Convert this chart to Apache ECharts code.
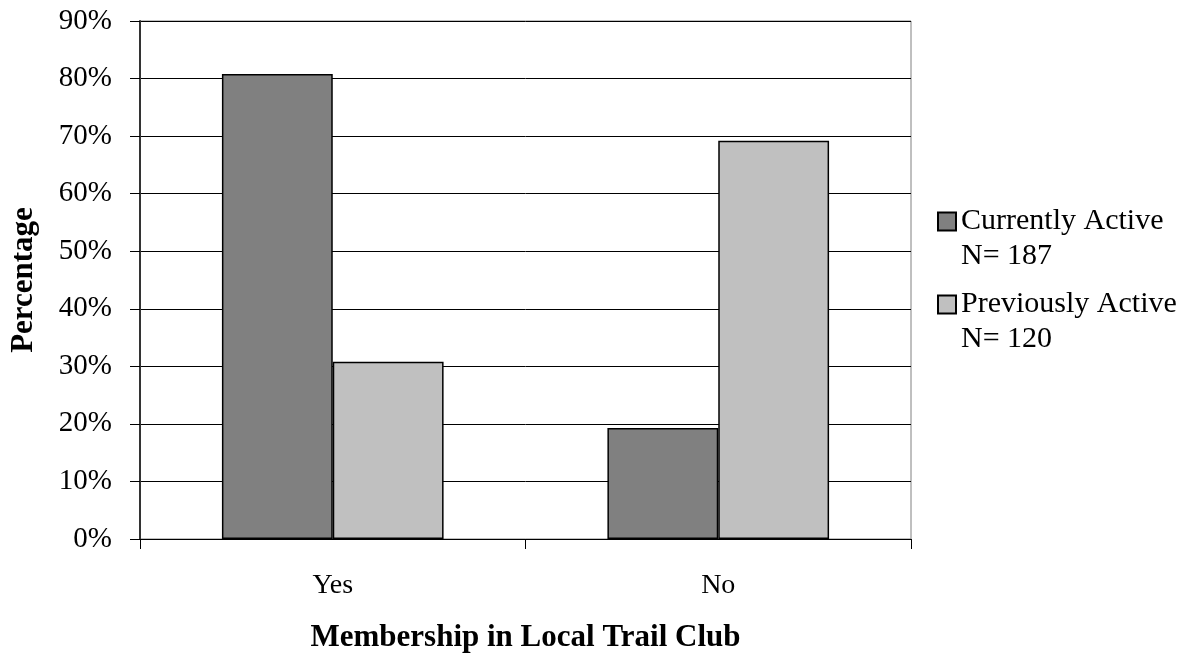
<!DOCTYPE html>
<html>
<head>
<meta charset="utf-8">
<script src="https://cdn.jsdelivr.net/npm/echarts@6/dist/echarts.min.js"></script>
<style>
  html, body { margin: 0; padding: 0; background: #fff; }
  #chart { width: 1198px; height: 662px; }
</style>
</head>
<body>
<div id="chart"></div>
<script>
  // data
  var categories = ['Yes', 'No'];
  var seriesNames = ['Currently Active', 'Previously Active'];
  var sampleSizes = ['N= 187', 'N= 120'];
  var currentlyActive = [80.8, 19.3];
  var previouslyActive = [30.8, 69.2];
  var yTicks = [0, 10, 20, 30, 40, 50, 60, 70, 80, 90];

  var font = '"Liberation Serif", "Times New Roman", serif';

  var chart = echarts.init(document.getElementById('chart'));

  var option = {
    backgroundColor: '#fff',
    animation: false,
    textStyle: { fontFamily: font, color: '#000' },
    grid: {
      left: 139, right: 287, top: 21, bottom: 123,
      show: true, borderColor: '#808080', borderWidth: 1
    },
    legend: {
      orient: 'vertical',
      left: 932, top: 164,
      itemWidth: 18, itemHeight: 18,
      itemGap: -22,
      icon: 'rect',
      itemStyle: { borderColor: '#000', borderWidth: 2 },
      textStyle: { fontFamily: font, fontSize: 30, color: '#000', lineHeight: 35 },
      data: seriesNames,
      // empty first line so the name line sits level with the square
      formatter: function (name) {
        return ' \n' + name + '\n' + sampleSizes[seriesNames.indexOf(name)];
      }
    },
    xAxis: {
      type: 'category',
      data: categories,
      name: 'Membership in Local Trail Club',
      nameLocation: 'middle',
      nameGap: 83,
      nameTextStyle: { fontFamily: font, fontSize: 31, fontWeight: 'bold', color: '#000' },
      axisLine: { lineStyle: { color: '#000', width: 1 } },
      axisTick: { show: true, length: 10, lineStyle: { color: '#000' } },
      axisLabel: { fontFamily: font, fontSize: 28, color: '#000', margin: 33 }
    },
    yAxis: {
      type: 'value',
      min: 0, max: 90, interval: 10,
      name: 'Percentage',
      nameLocation: 'middle',
      nameGap: 101,
      nameRotate: 90,
      nameTextStyle: { fontFamily: font, fontSize: 31, fontWeight: 'bold', color: '#000' },
      axisLine: { show: true, lineStyle: { color: '#333', width: 2 } },
      axisTick: { show: true, inside: false, length: 10, lineStyle: { color: '#000' } },
      axisLabel: {
        fontFamily: font, fontSize: 29, color: '#000', margin: 28,
        formatter: function (v) { return yTicks.indexOf(v) >= 0 ? v + '%' : ''; }
      },
      splitLine: { show: true, lineStyle: { color: '#000', width: 1 } }
    },
    series: [
      {
        name: seriesNames[0],
        type: 'bar',
        data: currentlyActive,
        barGap: '0%',
        barCategoryGap: '42.5%',
        itemStyle: { color: '#808080', borderColor: '#000', borderWidth: 1.5 }
      },
      {
        name: seriesNames[1],
        type: 'bar',
        data: previouslyActive,
        barGap: '0%',
        barCategoryGap: '42.5%',
        itemStyle: { color: '#c0c0c0', borderColor: '#000', borderWidth: 1.5 }
      }
    ]
  };

  chart.setOption(option);
</script>
</body>
</html>
